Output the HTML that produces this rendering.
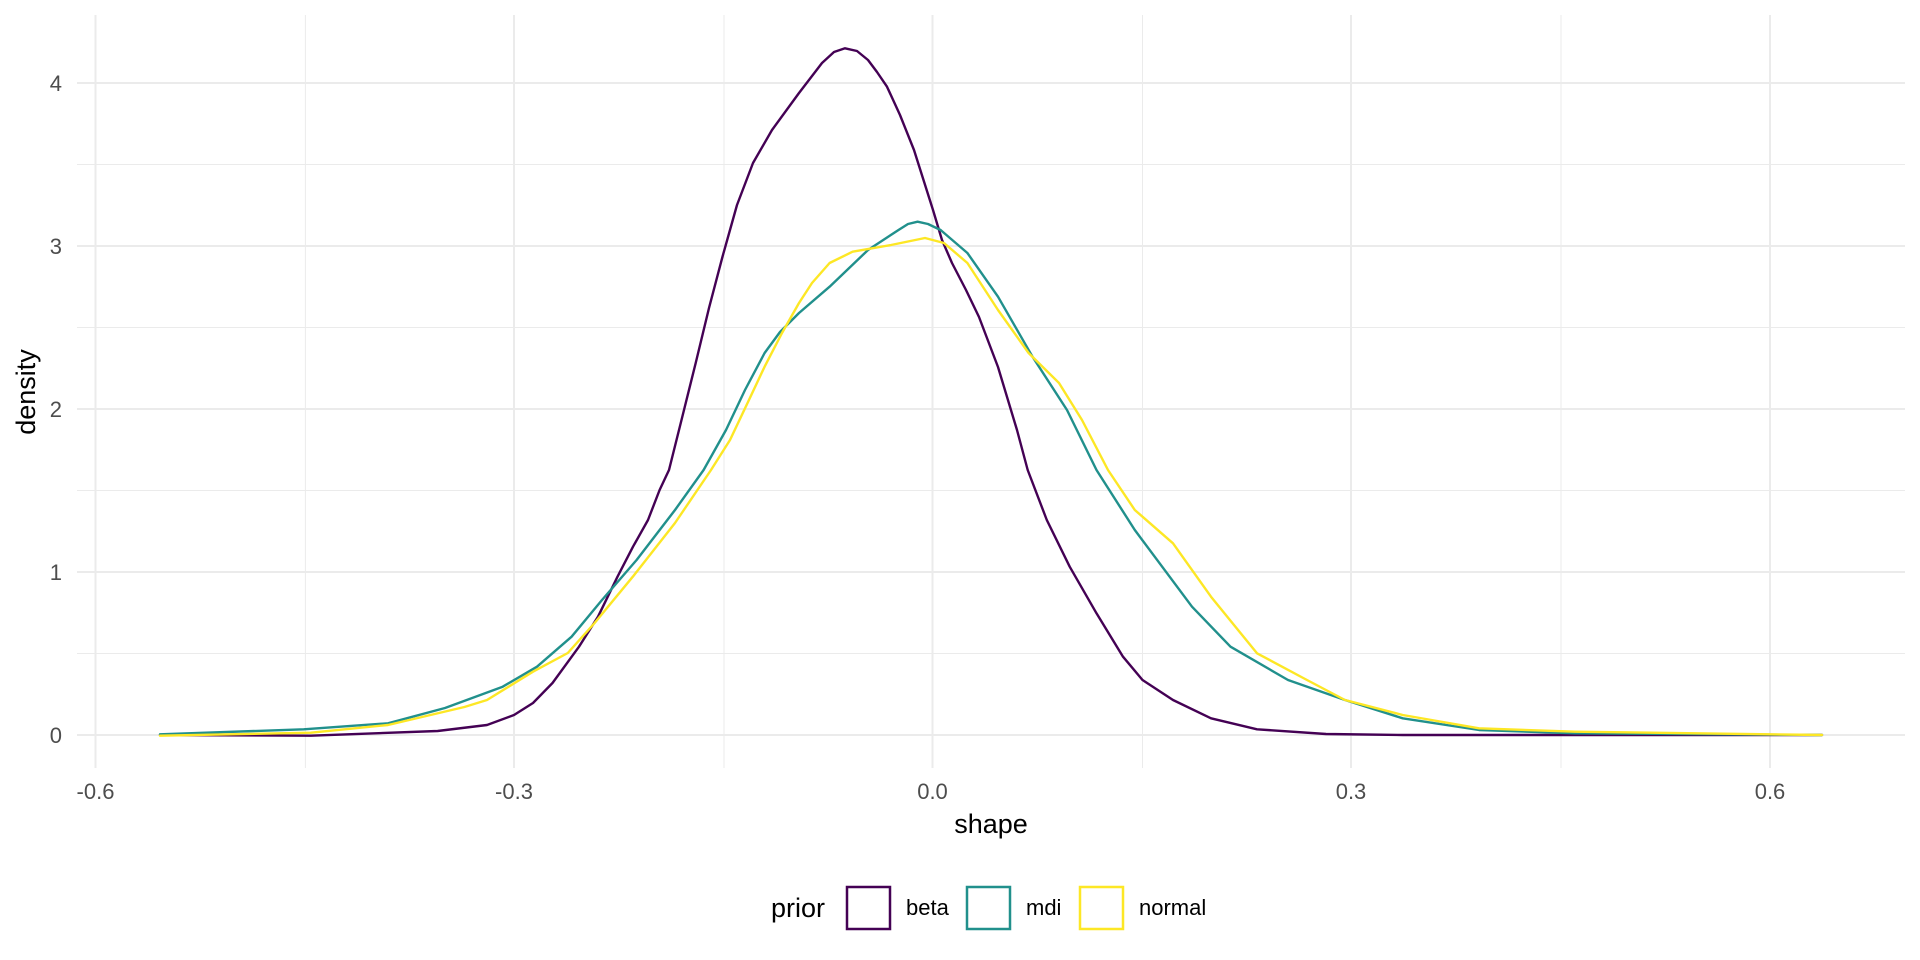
<!DOCTYPE html>
<html><head><meta charset="utf-8"><style>html,body{margin:0;padding:0;background:#fff}svg{display:block}</style></head>
<body>
<svg width="1920" height="960" viewBox="0 0 1920 960" xmlns="http://www.w3.org/2000/svg" font-family="Liberation Sans, sans-serif">
<rect width="1920" height="960" fill="#fff"/>
<g stroke="#ebebeb" stroke-width="1">
<line x1="77" x2="1905" y1="653.5" y2="653.5"/><line x1="77" x2="1905" y1="490.5" y2="490.5"/><line x1="77" x2="1905" y1="327.5" y2="327.5"/><line x1="77" x2="1905" y1="164.5" y2="164.5"/>
<line y1="15" y2="768" x1="305.4" x2="305.4"/><line y1="15" y2="768" x1="724" x2="724"/><line y1="15" y2="768" x1="1142.5" x2="1142.5"/><line y1="15" y2="768" x1="1561" x2="1561"/>
</g>
<g stroke="#ebebeb" stroke-width="2">
<line x1="77" x2="1905" y1="735" y2="735"/><line x1="77" x2="1905" y1="572" y2="572"/><line x1="77" x2="1905" y1="409" y2="409"/><line x1="77" x2="1905" y1="246" y2="246"/><line x1="77" x2="1905" y1="83" y2="83"/>
<line y1="15" y2="768" x1="95.5" x2="95.5"/><line y1="15" y2="768" x1="514" x2="514"/><line y1="15" y2="768" x1="932.5" x2="932.5"/><line y1="15" y2="768" x1="1351" x2="1351"/><line y1="15" y2="768" x1="1770" x2="1770"/>
</g>
<g font-size="22" fill="#4d4d4d" text-anchor="end">
<text x="62" y="743">0</text><text x="62" y="580">1</text><text x="62" y="417">2</text><text x="62" y="254">3</text><text x="62" y="91">4</text>
</g>
<g font-size="22" fill="#4d4d4d" text-anchor="middle">
<text x="95.5" y="799">-0.6</text><text x="514" y="799">-0.3</text><text x="932.5" y="799">0.0</text><text x="1351" y="799">0.3</text><text x="1770" y="799">0.6</text>
</g>
<text x="991" y="833" font-size="27" text-anchor="middle">shape</text>
<text transform="translate(35,392) rotate(-90)" font-size="27" text-anchor="middle">density</text>
<g fill="none" stroke-width="2.4" stroke-linejoin="round" stroke-linecap="round">
<polyline stroke="#440154" points="160,735 311,735.7 437.6,731 487,725 514,715 533,703 552.5,683 579,646.7 598,616.7 617.5,576.7 633,546.7 648,520 659.6,490 669,470 682,418 695.7,363 709,308 722.5,256.7 737,205 753,163 772,130 799,93 822,63 834,52 845,48.3 857,51 868,60 877,72 887,86.7 900,115 914,150 933,210 942,240 952,263 966,290 979,317 998,367 1017,430 1027.7,470 1046.8,520 1069.7,566.7 1096.5,613.3 1123,656.7 1142.5,680 1173,700 1211,718.3 1257,729.3 1326,734 1402.7,735 1822,735"/>
<polyline stroke="#21908c" points="160,734.3 303.7,729.3 388,723.3 445,708 502.7,686.7 537,666.7 571.6,636.7 602,600 636.6,560 675,510 703.6,470 726,430 745,390 764.6,353 780,332 799,313 829.6,286.7 868,250 898.5,230 908,224 917.6,221.7 928,224 940.6,230 967.4,253 998,296.7 1032.5,356.7 1067,410 1096.5,470 1134.8,530 1192,606.7 1230.5,646.7 1288,680 1345,700 1402.7,718.3 1479,730 1575,733.3 1822,735"/>
<polyline stroke="#fde725" points="160,735.7 311,732.7 388,725 464.4,707 487,700 533,671.7 567.8,653 594.6,623 632.8,576.7 675,523 711,470 730,440 748,402 764.6,366.7 782,333 799,303 812,283 829.6,263 852.6,251.7 891,245 925,238 944,243 967.4,263 998,310 1028.6,353 1059,383 1082,420 1108,470 1134.8,510 1173,543.3 1211,596.7 1257,653.3 1307,680 1345,700 1402.7,715 1479,728.3 1575,731.7 1822,735"/>
</g>
<text x="771" y="917" font-size="27">prior</text>
<rect x="847" y="887" width="43" height="42" fill="#fff" stroke="#440154" stroke-width="2.5"/>
<text x="906" y="915" font-size="22">beta</text>
<rect x="967" y="887" width="43" height="42" fill="#fff" stroke="#21908c" stroke-width="2.5"/>
<text x="1026" y="915" font-size="22">mdi</text>
<rect x="1080" y="887" width="43" height="42" fill="#fff" stroke="#fde725" stroke-width="2.5"/>
<text x="1139" y="915" font-size="22">normal</text>
</svg>
</body></html>
